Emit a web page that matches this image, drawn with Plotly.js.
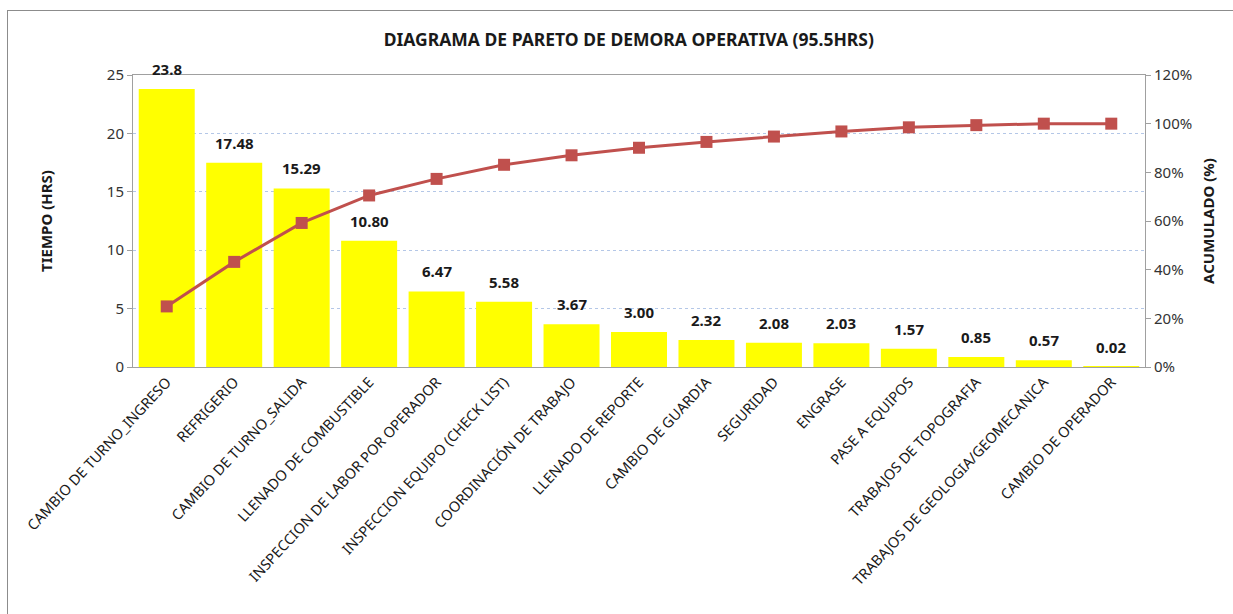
<!DOCTYPE html>
<html><head><meta charset="utf-8">
<script src="https://cdn.plot.ly/plotly-3.0.1.min.js"></script>
<style>
html,body{margin:0;padding:0;background:#fff;}
#frame{position:absolute;left:7px;top:10px;width:1240px;height:620px;border:1.5px solid #8c8c8c;box-sizing:border-box;}
#chart{position:absolute;left:0;top:0;width:1233px;height:614px;}
</style></head>
<body>
<div id="frame"></div>
<div id="chart"></div>
<script>
const categories = ["CAMBIO DE TURNO_INGRESO","REFRIGERIO","CAMBIO DE TURNO_SALIDA","LLENADO DE COMBUSTIBLE","INSPECCION DE LABOR POR OPERADOR","INSPECCION EQUIPO (CHECK LIST)","COORDINACIÓN DE TRABAJO","LLENADO DE REPORTE","CAMBIO DE GUARDIA","SEGURIDAD","ENGRASE","PASE A EQUIPOS","TRABAJOS DE TOPOGRAFIA","TRABAJOS DE GEOLOGIA/GEOMECANICA","CAMBIO DE OPERADOR"];
const hours = [23.8,17.48,15.29,10.80,6.47,5.58,3.67,3.00,2.32,2.08,2.03,1.57,0.85,0.57,0.02];
const hourLabels = ["23.8","17.48","15.29","10.80","6.47","5.58","3.67","3.00","2.32","2.08","2.03","1.57","0.85","0.57","0.02"];
const cumulativePct = [24.9,43.2,59.2,70.5,77.3,83.1,87.0,90.1,92.5,94.7,96.8,98.5,99.4,100.0,100.0];

const FONT = "'Noto Sans',sans-serif";

const bars = {
  type:'bar', x:categories, y:hours, marker:{color:'#FFFF00'},
  hoverinfo:'x+y', showlegend:false
};
const line = {
  type:'scatter', mode:'lines+markers', x:categories, y:cumulativePct, yaxis:'y2',
  line:{color:'#C0504D', width:3}, marker:{symbol:'square', size:12, color:'#C0504D'},
  showlegend:false, cliponaxis:false
};
const annotations = categories.map((c,i)=>({
  x:c, y:hours[i], xref:'x', yref:'y', text:hourLabels[i], showarrow:false,
  yanchor:'bottom', yshift:8, font:{family:FONT, size:15, color:'#1a1a1a', weight:'bold'}
}));

const layout = {
  width:1233, height:614,
  paper_bgcolor:'rgba(0,0,0,0)', plot_bgcolor:'#fff',
  margin:{l:133, r:88, t:75, b:247},
  title:{text:'DIAGRAMA DE PARETO DE DEMORA OPERATIVA (95.5HRS)', x:0.51, xanchor:'center', y:0.935, yanchor:'middle',
    font:{family:FONT, size:17.5, color:'#1a1a1a', weight:'bold'}},
  bargap:0.17,
  xaxis:{range:[-0.5,14.5], tickangle:-47, tickfont:{family:FONT, size:14.5, color:'#1a1a1a'},
    showline:true, linecolor:'#a0a0a0', linewidth:1, mirror:true, ticks:'', showgrid:false, automargin:false},
  yaxis:{range:[0,25], dtick:5, tickfont:{family:FONT, size:15, color:'#333'},
    showline:true, linecolor:'#a0a0a0', ticks:'outside', ticklen:5, tickcolor:'#a0a0a0',
    gridcolor:'#b4c7e7', griddash:'dot', gridwidth:1, zeroline:false,
    title:{text:'TIEMPO (HRS)', standoff:50, font:{family:FONT, size:15, color:'#1a1a1a', weight:'bold'}}},
  yaxis2:{range:[0,120], dtick:20, overlaying:'y', side:'right', ticksuffix:'%',
    tickfont:{family:FONT, size:15, color:'#333'}, showgrid:false, zeroline:false,
    showline:true, linecolor:'#a0a0a0', ticks:'outside', ticklen:5, tickcolor:'#a0a0a0',
    title:{text:'ACUMULADO (%)', standoff:12, font:{family:FONT, size:15, color:'#1a1a1a', weight:'bold'}}},
  annotations:annotations
};
Plotly.newPlot('chart',[bars,line],layout,{displayModeBar:false});
</script>
</body></html>
